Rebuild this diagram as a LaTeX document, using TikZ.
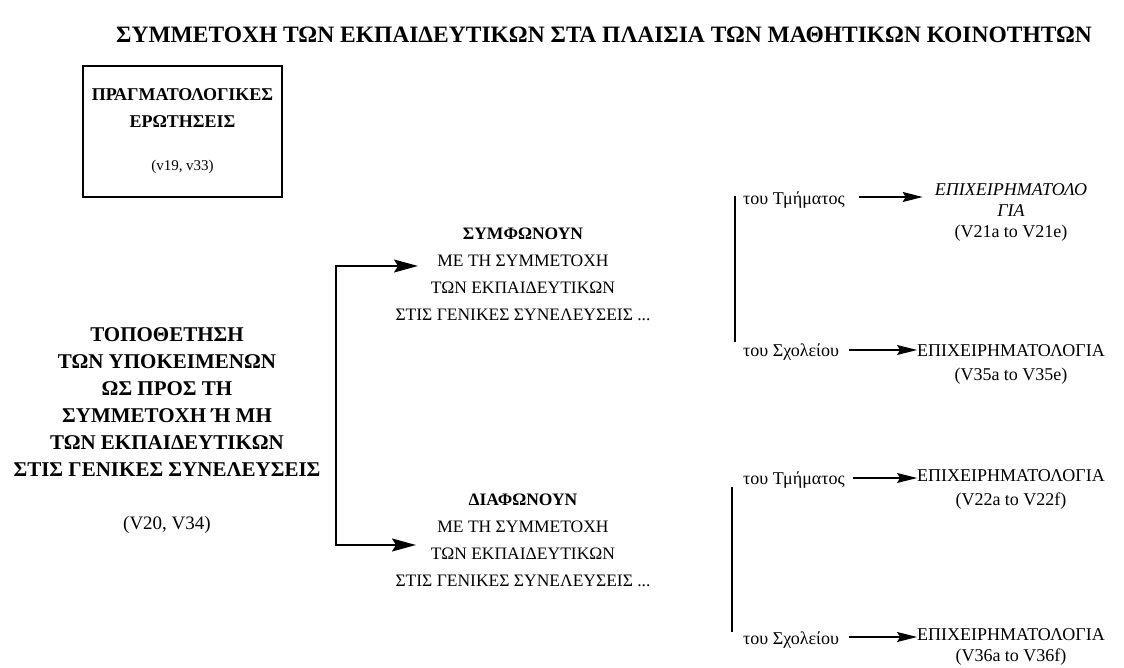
\documentclass[tikz,border=0pt]{standalone}
\usepackage{fontspec}
\setmainfont{Liberation Serif}
\usetikzlibrary{arrows.meta}
\begin{document}
\begin{tikzpicture}[x=1pt,y=-1pt,
  txt/.style={inner sep=0pt, align=center},
  bigarr/.style={line width=1.6pt, {Stealth[length=24pt,width=13pt,inset=4pt]}-{Stealth[length=24pt,width=13pt,inset=4pt]}},
  smallarr/.style={line width=1.2pt, -{Stealth[length=20pt,width=10pt,inset=3pt]}},
  bar/.style={line width=1.5pt},
  rfont/.style={font=\fontsize{18}{24}\selectfont},
]
\useasboundingbox[fill=white] (0,0) rectangle (1124,668);

% title
\node[txt, font=\fontsize{23.5}{28}\selectfont\bfseries] (title) at (604,35)
  {ΣΥΜΜΕΤΟΧΗ ΤΩΝ ΕΚΠΑΙΔΕΥΤΙΚΩΝ ΣΤΑ ΠΛΑΙΣΙΑ ΤΩΝ ΜΑΘΗΤΙΚΩΝ ΚΟΙΝΟΤΗΤΩΝ};

% box
\node[txt, draw, line width=1.4pt, minimum width=199pt, minimum height=131pt,
      font=\fontsize{18}{27}\selectfont] (facts) at (182.5,131.5)
  {\textbf{ΠΡΑΓΜΑΤΟΛΟΓΙΚΕΣ}\\\textbf{ΕΡΩΤΗΣΕΙΣ}\\[16pt]{\fontsize{15}{27}\selectfont(v19, v33)}};

% left block
\node[txt, font=\fontsize{21}{27}\selectfont] (stance) at (167,431)
  {\textbf{ΤΟΠΟΘΕΤΗΣΗ}\\\textbf{ΤΩΝ ΥΠΟΚΕΙΜΕΝΩΝ}\\\textbf{ΩΣ ΠΡΟΣ ΤΗ}\\\textbf{ΣΥΜΜΕΤΟΧΗ Ή ΜΗ}\\\textbf{ΤΩΝ ΕΚΠΑΙΔΕΥΤΙΚΩΝ}\\\textbf{ΣΤΙΣ ΓΕΝΙΚΕΣ ΣΥΝΕΛΕΥΣΕΙΣ}\\[26pt]{\fontsize{19}{27}\selectfont(V20, V34)}};

% middle nodes
\node[txt, font=\fontsize{17.5}{27}\selectfont] (agree) at (523,274)
  {\textbf{ΣΥΜΦΩΝΟΥΝ}\\ΜΕ ΤΗ ΣΥΜΜΕΤΟΧΗ\\ΤΩΝ ΕΚΠΑΙΔΕΥΤΙΚΩΝ\\ΣΤΙΣ ΓΕΝΙΚΕΣ ΣΥΝΕΛΕΥΣΕΙΣ ...};
\node[txt, font=\fontsize{17.5}{27}\selectfont] (disagree) at (523,540)
  {\textbf{ΔΙΑΦΩΝΟΥΝ}\\ΜΕ ΤΗ ΣΥΜΜΕΤΟΧΗ\\ΤΩΝ ΕΚΠΑΙΔΕΥΤΙΚΩΝ\\ΣΤΙΣ ΓΕΝΙΚΕΣ ΣΥΝΕΛΕΥΣΕΙΣ ...};

% fork connector
\coordinate (ttip) at (418,266);
\coordinate (ftop) at (336,266);
\coordinate (fbot) at (336,545);
\coordinate (btip) at (416,545);
\draw[bigarr] (ttip) -- (ftop) -- (fbot) -- (btip);

% right side, top group
\coordinate (b1t) at (735,196);
\coordinate (b1b) at (735,342);
\draw[bar] (b1t) -- (b1b);
\node[txt, rfont, anchor=west] (t1) at (743,200) {του Τμήματος};
\node[txt, rfont, anchor=west] (s1) at (743,352) {του Σχολείου};
\node[txt, rfont] (a1) at (1011,212)
  {\textit{ΕΠΙΧΕΙΡΗΜΑΤΟΛΟ}\\[-3pt]\textit{ΓΙΑ}\\[-3pt](V21a to V21e)};
\node[txt, rfont] (a2) at (1011,364)
  {ΕΠΙΧΕΙΡΗΜΑΤΟΛΟΓΙΑ\\(V35a to V35e)};
\draw[smallarr] (t1.east) ++(14,-3) coordinate (t1s) -- ([xshift=-12pt]a1.west |- t1s);
\draw[smallarr] (s1.east) ++(10,-2) coordinate (s1s) -- (a2.west |- s1s);

% right side, bottom group
\coordinate (b2t) at (732,487);
\coordinate (b2b) at (732,632);
\draw[bar] (b2t) -- (b2b);
\node[txt, rfont, anchor=west] (t2) at (743,480) {του Τμήματος};
\node[txt, rfont, anchor=west] (s2) at (743,640) {του Σχολείου};
\node[txt, rfont] (a3) at (1011,489)
  {ΕΠΙΧΕΙΡΗΜΑΤΟΛΟΓΙΑ\\(V22a to V22f)};
\node[txt, rfont] (a4) at (1011,647)
  {ΕΠΙΧΕΙΡΗΜΑΤΟΛΟΓΙΑ\\[-3pt](V36a to V36f)};
\draw[smallarr] (t2.east) ++(8,-2) coordinate (t2s) -- (a3.west |- t2s);
\draw[smallarr] (s2.east) ++(10,-3) coordinate (s2s) -- (a4.west |- s2s);
\end{tikzpicture}
\end{document}
